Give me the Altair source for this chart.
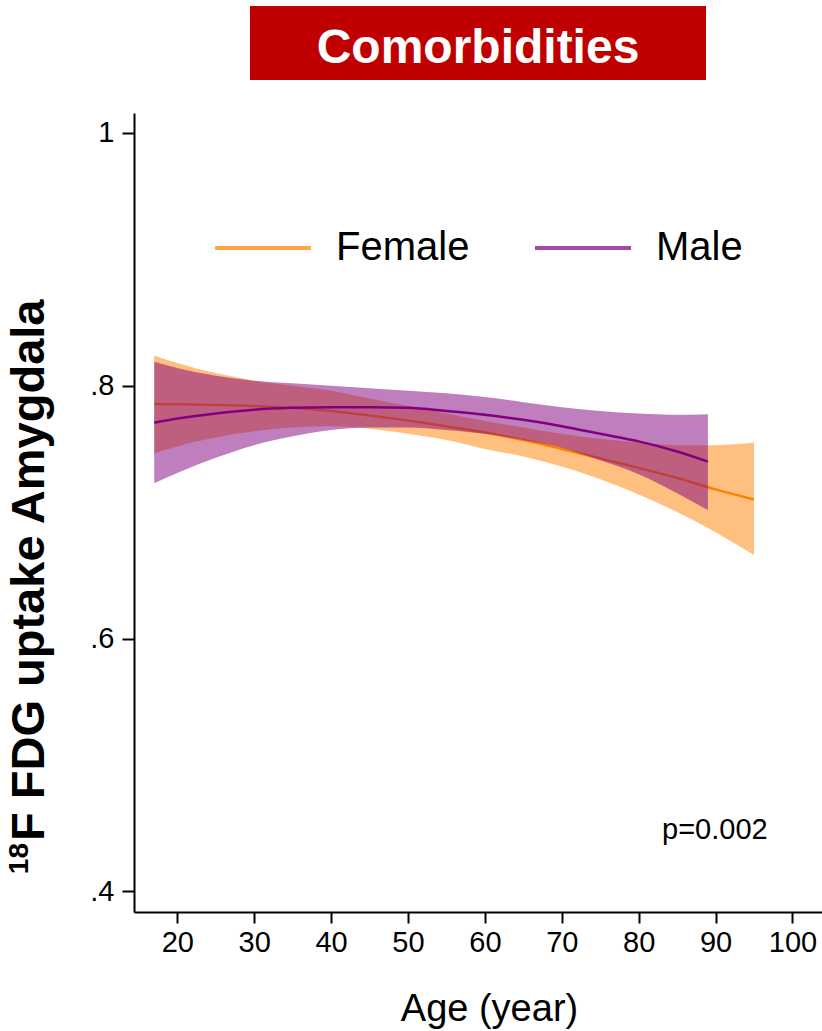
import altair as alt
import pandas as pd

# ---- data ----
sexes = ["Female", "Male"]
line_colors = ["#FF8000", "#800080"]

ages_f = [17, 20, 25, 30, 35, 40, 45, 50, 55, 60, 65, 70, 75, 80, 85, 90, 95]
fit_f = [0.7855, 0.7853, 0.7848, 0.7840, 0.7825, 0.7800, 0.7765, 0.7725, 0.7680,
         0.7630, 0.7570, 0.7500, 0.7425, 0.7350, 0.7270, 0.7180, 0.7100]
lo_f = [0.7465, 0.7520, 0.7590, 0.7640, 0.7670, 0.7680, 0.7660, 0.7620, 0.7570,
        0.7500, 0.7440, 0.7360, 0.7260, 0.7140, 0.7000, 0.6840, 0.6660]
hi_f = [0.8240, 0.8180, 0.8100, 0.8040, 0.8000, 0.7960, 0.7900, 0.7840, 0.7780,
        0.7720, 0.7670, 0.7620, 0.7580, 0.7550, 0.7530, 0.7530, 0.7550]

ages_m = [17, 20, 25, 30, 35, 40, 45, 50, 55, 60, 65, 70, 75, 80, 85, 89]
fit_m = [0.7707, 0.7740, 0.7780, 0.7810, 0.7825, 0.7830, 0.7830, 0.7825, 0.7800,
         0.7770, 0.7730, 0.7680, 0.7620, 0.7560, 0.7480, 0.7400]
lo_m = [0.7228, 0.7310, 0.7430, 0.7530, 0.7600, 0.7650, 0.7670, 0.7670, 0.7650,
        0.7620, 0.7570, 0.7510, 0.7410, 0.7300, 0.7150, 0.7016]
hi_m = [0.8190, 0.8140, 0.8080, 0.8040, 0.8020, 0.8000, 0.7980, 0.7960, 0.7940,
        0.7910, 0.7870, 0.7830, 0.7800, 0.7780, 0.7770, 0.7775]

x_ticks = [20, 30, 40, 50, 60, 70, 80, 90, 100]
y_ticks = [0.4, 0.6, 0.8, 1.0]

title_text = "Comorbidities"
y_title_sup = "18"
y_title = "F FDG uptake Amygdala"
x_title = "Age (year)"
p_text = "p=0.002"

FONT = "Liberation Sans, Arial, Helvetica, sans-serif"

df_f = pd.DataFrame({"age": ages_f, "fit": fit_f, "lo": lo_f, "hi": hi_f, "sex": sexes[0]})
df_m = pd.DataFrame({"age": ages_m, "fit": fit_m, "lo": lo_m, "hi": hi_m, "sex": sexes[1]})

xs = alt.Scale(domain=[14.37, 103.84], nice=False, zero=False)
ys = alt.Scale(domain=[0.3836, 1.0158], nice=False, zero=False)
color_scale = alt.Scale(domain=sexes, range=line_colors)

x_enc = alt.X("age:Q", scale=xs,
              axis=alt.Axis(values=x_ticks, title=x_title, grid=False,
                            domainColor="black", domainWidth=2, tickColor="black",
                            tickWidth=2, tickSize=11, labelFontSize=29, labelFont=FONT,
                            labelColor="black", labelPadding=5, labelFlush=False,
                            titleFontSize=38, titleFont=FONT, titleFontWeight="normal",
                            titleColor="black", titleX=355, titleY=108,
                            titleBaseline="alphabetic", titleAlign="center"))

y_axis = alt.Axis(values=y_ticks, title=None, grid=False,
                  domainColor="black", domainWidth=2, tickColor="black",
                  tickWidth=2, tickSize=12, labelFontSize=29, labelFont=FONT,
                  labelColor="black", labelPadding=8,
                  labelExpr="datum.value == 1 ? '1' : '.' + format(round(datum.value*10), 'd')")

legend = alt.Legend(orient="none", legendX=79, legendY=85, direction="horizontal",
                    title=None, symbolType="stroke", symbolSize=9216,
                    symbolStrokeWidth=4, symbolOpacity=0.7, labelFontSize=40,
                    labelFont=FONT, labelColor="black", labelOffset=23,
                    columnPadding=57, padding=0)


def band(df, col):
    return alt.Chart(df).mark_area(opacity=0.5, interpolate="monotone").encode(
        x=x_enc,
        y=alt.Y("lo:Q", scale=ys, axis=y_axis),
        y2="hi:Q",
        fill=alt.value(col),
    )


def curve(df):
    return alt.Chart(df).mark_line(strokeWidth=2.5, interpolate="monotone").encode(
        x=x_enc,
        y=alt.Y("fit:Q", scale=ys, axis=y_axis),
        color=alt.Color("sex:N", scale=color_scale, legend=legend),
    )


one = pd.DataFrame({"k": [0]})

title_box = alt.Chart(one).mark_rect(color="#C00000").encode(
    x=alt.value(116), x2=alt.value(572), y=alt.value(-107), y2=alt.value(-33))
title_lbl = alt.Chart(one).mark_text(text=title_text, font=FONT, fontSize=48,
                                     fontWeight="bold", color="white", align="center",
                                     baseline="alphabetic").encode(
    x=alt.value(344), y=alt.value(-50))
ytitle = alt.Chart(one).mark_text(text=y_title, font=FONT, fontSize=47,
                                  fontWeight="bold", color="black", align="left",
                                  baseline="alphabetic", angle=270).encode(
    x=alt.value(-90), y=alt.value(728))
ytitle_sup = alt.Chart(one).mark_text(text=y_title_sup, font=FONT, fontSize=28,
                                      fontWeight="bold", color="black", align="right",
                                      baseline="alphabetic", angle=270).encode(
    x=alt.value(-106), y=alt.value(730))
ptext = alt.Chart(one).mark_text(text=p_text, font=FONT, fontSize=29, color="black",
                                 align="left", baseline="alphabetic").encode(
    x=alt.value(528), y=alt.value(726))

chart = alt.layer(
    band(df_f, line_colors[0]), curve(df_f), band(df_m, line_colors[1]), curve(df_m),
    title_box, title_lbl, ytitle, ytitle_sup, ptext
).properties(
    width=688, height=799,
    padding={"left": 134, "top": 113, "right": 0, "bottom": 119},
    autosize=alt.AutoSizeParams(type="none"),
    background="white",
).configure_view(stroke=None)

chart.save("out.html", embed_options={"renderer": "svg", "actions": False})
